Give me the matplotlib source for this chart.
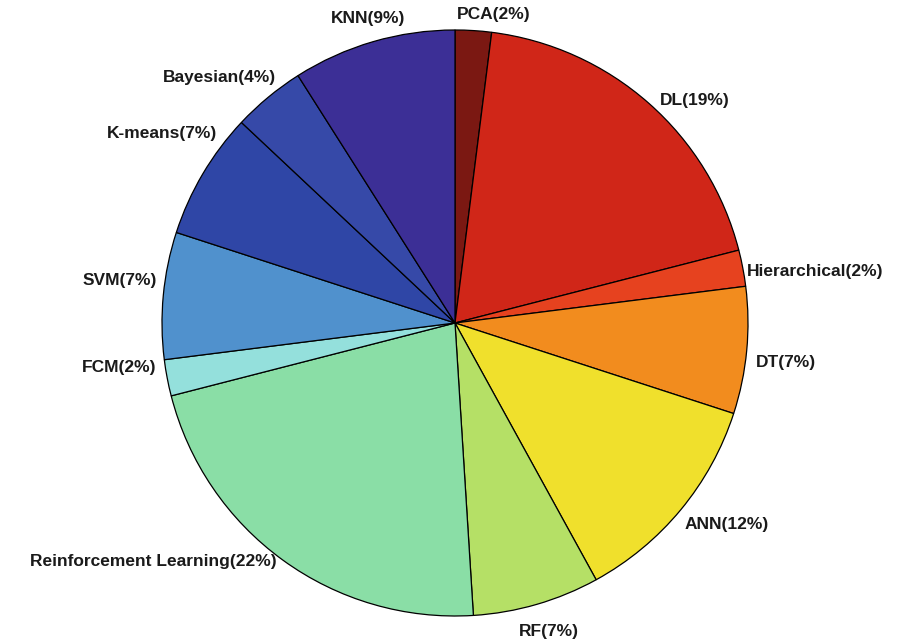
import numpy as np
import matplotlib
matplotlib.use("Agg")
import matplotlib.pyplot as plt

# Share of studies per machine-learning method (percent), clockwise from 12 o'clock
methods = ["PCA", "DL", "Hierarchical", "DT", "ANN", "RF",
           "Reinforcement Learning", "FCM", "SVM", "K-means", "Bayesian", "KNN"]
shares = [2, 19, 2, 7, 12, 7, 22, 2, 7, 7, 4, 9]

colors = ["#7b1812", "#d02618", "#e6421f", "#f28c1e", "#f0e02c", "#b5e066",
          "#8adea6", "#94e0dc", "#5091cd", "#2f46a6", "#3649a8", "#3c2f96"]

# Fine placement of each label (pixels: right, down) relative to its default spot
label_nudge = {
    "PCA": (19, -1), "KNN": (-1, -9), "DL": (1, 8), "Hierarchical": (-10, 6),
    "DT": (-5, 11), "ANN": (-7, 5), "RF": (8, 13), "Reinforcement Learning": (2, -10),
    "FCM": (4, -13), "SVM": (8, -14), "K-means": (27, -33), "Bayesian": (17, -8),
}

W, H = 898, 644
fig = plt.figure(figsize=(W / 100, H / 100), dpi=100)
cx, cy, r = 455, 323, 293
ax = fig.add_axes([(cx - r) / W, (H - cy - r) / H, 2 * r / W, 2 * r / H])

wedges, _ = ax.pie(shares, startangle=90, counterclock=False, colors=colors,
                   wedgeprops=dict(edgecolor="black", linewidth=0.9))
ax.set_xlim(-1, 1)
ax.set_ylim(-1, 1)
ax.set_aspect("auto")
ax.axis("off")

R = 1.05
for wdg, name, val in zip(wedges, methods, shares):
    theta = np.deg2rad((wdg.theta1 + wdg.theta2) / 2)
    c, s = np.cos(theta), np.sin(theta)
    x, y = R * c, R * s
    ha = "left" if c > 0.3 else ("right" if c < -0.3 else "center")
    dx, dy = label_nudge[name]
    ax.annotate(f"{name}({val}%)", xy=(x, y), xytext=(dx * 0.72, -dy * 0.72),
                textcoords="offset points", ha=ha, va="center",
                fontsize=12.5, fontweight="bold", family="Liberation Sans",
                color="#1a1a1a", annotation_clip=False)

fig.savefig("out.png", dpi=100, facecolor="white")
